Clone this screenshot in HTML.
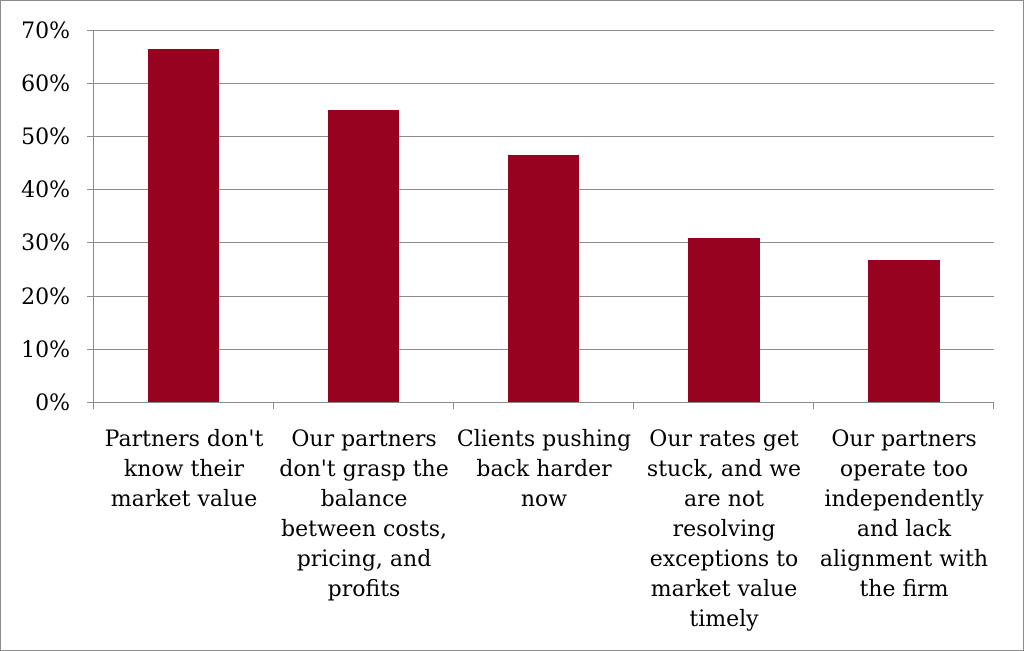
<!DOCTYPE html>
<html><head><style>
body{margin:0;background:#fff;}
svg{display:block;}
text{font-family:"DejaVu Serif","Liberation Serif",serif;font-size:22px;fill:#000;}
</style></head><body>
<svg width="1024" height="651" xmlns="http://www.w3.org/2000/svg">
<rect x="0.5" y="0.5" width="1023" height="650" fill="#fff" stroke="#8c8c8c"/>
<g stroke="#8c8c8c" stroke-width="1">
<line x1="93" y1="30.5" x2="994" y2="30.5"/>
<line x1="93" y1="83.5" x2="994" y2="83.5"/>
<line x1="93" y1="136.5" x2="994" y2="136.5"/>
<line x1="93" y1="189.5" x2="994" y2="189.5"/>
<line x1="93" y1="242.5" x2="994" y2="242.5"/>
<line x1="93" y1="296.5" x2="994" y2="296.5"/>
<line x1="93" y1="349.5" x2="994" y2="349.5"/>
<line x1="87" y1="402.5" x2="994" y2="402.5"/>
<line x1="93.5" y1="30" x2="93.5" y2="409"/>
<line x1="87" y1="30.5" x2="93" y2="30.5"/>
<line x1="87" y1="83.5" x2="93" y2="83.5"/>
<line x1="87" y1="136.5" x2="93" y2="136.5"/>
<line x1="87" y1="189.5" x2="93" y2="189.5"/>
<line x1="87" y1="242.5" x2="93" y2="242.5"/>
<line x1="87" y1="296.5" x2="93" y2="296.5"/>
<line x1="87" y1="349.5" x2="93" y2="349.5"/>
<line x1="273.5" y1="402" x2="273.5" y2="409"/>
<line x1="453.5" y1="402" x2="453.5" y2="409"/>
<line x1="633.5" y1="402" x2="633.5" y2="409"/>
<line x1="813.5" y1="402" x2="813.5" y2="409"/>
<line x1="993.5" y1="402" x2="993.5" y2="409"/>
</g>
<g fill="#960220">
<rect x="148" y="49" width="71" height="353"/>
<rect x="328" y="110" width="71" height="292"/>
<rect x="508" y="155" width="71" height="247"/>
<rect x="688" y="238" width="72" height="164"/>
<rect x="868" y="260" width="72" height="142"/>
</g>
<g text-anchor="end">
<text x="70" y="38">70%</text>
<text x="70" y="91">60%</text>
<text x="70" y="144">50%</text>
<text x="70" y="197">40%</text>
<text x="70" y="250">30%</text>
<text x="70" y="304">20%</text>
<text x="70" y="357">10%</text>
<text x="70" y="410">0%</text>
</g>
<g text-anchor="middle">
<text x="184" y="446">Partners don't</text>
<text x="184" y="476">know their</text>
<text x="184" y="506">market value</text>
<text x="364" y="446">Our partners</text>
<text x="364" y="476">don't grasp the</text>
<text x="364" y="506">balance</text>
<text x="364" y="536">between costs,</text>
<text x="364" y="566">pricing, and</text>
<text x="364" y="596">profits</text>
<text x="544" y="446">Clients pushing</text>
<text x="544" y="476">back harder</text>
<text x="544" y="506">now</text>
<text x="724" y="446">Our rates get</text>
<text x="724" y="476">stuck, and we</text>
<text x="724" y="506">are not</text>
<text x="724" y="536">resolving</text>
<text x="724" y="566">exceptions to</text>
<text x="724" y="596">market value</text>
<text x="724" y="626">timely</text>
<text x="904" y="446">Our partners</text>
<text x="904" y="476">operate too</text>
<text x="904" y="506">independently</text>
<text x="904" y="536">and lack</text>
<text x="904" y="566">alignment with</text>
<text x="904" y="596">the firm</text>
</g>
</svg>
</body></html>
